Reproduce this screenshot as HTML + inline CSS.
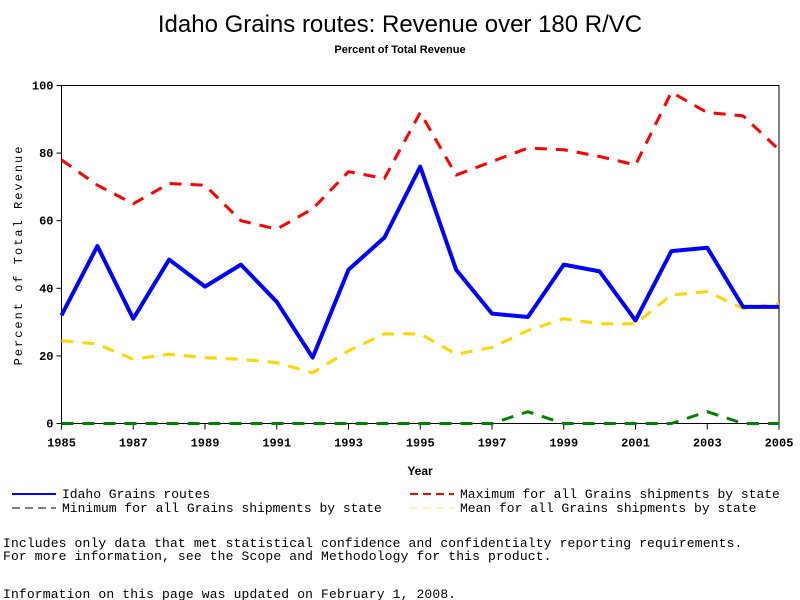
<!DOCTYPE html>
<html><head><meta charset="utf-8"><style>
body{margin:0;background:#fff;width:800px;height:600px;overflow:hidden}
svg{display:block}
text{font-family:"Liberation Mono",monospace}
</style></head><body>
<svg id="c" width="800" height="600">
<text x="400" y="32" text-anchor="middle" font-size="24" style="font-family:'Liberation Sans',sans-serif">Idaho Grains routes: Revenue over 180 R/VC</text>
<text x="400" y="53" text-anchor="middle" font-size="11" font-weight="bold" style="font-family:'Liberation Sans',sans-serif">Percent of Total Revenue</text>
<g id="axes"></g><g id="series"></g>
<text x="420" y="475" text-anchor="middle" font-size="12" font-weight="bold" style="font-family:'Liberation Sans',sans-serif">Year</text>
<text transform="translate(22,255) rotate(-90)" text-anchor="middle" font-size="12" letter-spacing="2">Percent of Total Revenue</text>
<g font-size="13">
<line x1="12" y1="494" x2="56" y2="494" stroke="#0000ff" stroke-width="2"/><text x="62" y="498">Idaho Grains routes</text>
<line x1="410" y1="494" x2="454" y2="494" stroke="#ff0000" stroke-width="2" stroke-dasharray="8,5"/><text x="460" y="498">Maximum for all Grains shipments by state</text>
<line x1="12" y1="508" x2="56" y2="508" stroke="#000" stroke-width="1" stroke-dasharray="8,5"/><text x="62" y="512">Minimum for all Grains shipments by state</text>
<line x1="410" y1="508" x2="454" y2="508" stroke="#ffe680" stroke-width="1" stroke-dasharray="8,5"/><text x="460" y="512">Mean for all Grains shipments by state</text>
</g>
<g font-size="13" letter-spacing="0.15">
<text x="3" y="547">Includes only data that met statistical confidence and confidentialty reporting requirements.</text>
<text x="3" y="560">For more information, see the Scope and Methodology for this product.</text>
<text x="3" y="598">Information on this page was updated on February 1, 2008.</text>
</g>
</svg>
<script>
const years=[1985,1986,1987,1988,1989,1990,1991,1992,1993,1994,1995,1996,1997,1998,1999,2000,2001,2002,2003,2004,2005];
const idaho=[32,52.5,31,48.5,40.5,47,36,19.5,45.5,55,76,45.5,32.5,31.5,47,45,30.5,51,52,34.5,34.5];
const maxv=[78,70.5,65,71,70.5,60,57.5,63.5,74.5,72.5,92,73.5,77.5,81.5,81,79,76.5,98,92,91,81];
const minv=[0,0,0,0,0,0,0,0,0,0,0,0,0,3.5,0,0,0,0,3.5,0,0];
const meanv=[24.5,23.5,19,20.5,19.5,19,18,15,21.5,26.5,26.5,20.5,22.5,27.5,31,29.5,29.5,38,39,34,35.5];
const yTicks=[0,20,40,60,80,100];
const xTicks=[1985,1987,1989,1991,1993,1995,1997,1999,2001,2003,2005];
const NS='http://www.w3.org/2000/svg';
const X0=61.5,X1=779,Y0=423.5,Y1=85.5;
const xs=v=>X0+(v-1985)/20*(X1-X0);
const ys=v=>Y0-(v/100)*(Y0-Y1);
function mk(t,a,p){const e=document.createElementNS(NS,t);for(const k in a)e.setAttribute(k,a[k]);p.appendChild(e);return e;}
const ax=document.getElementById('axes'),se=document.getElementById('series');
const fr=mk('rect',{x:X0,y:Y1,width:X1-X0,height:Y0-Y1,fill:'none',stroke:'#000'},ax);


yTicks.forEach(v=>{mk('line',{x1:X0-5,x2:X0,y1:ys(v),y2:ys(v),stroke:'#000'},ax);
const t=mk('text',{x:X0-8,y:ys(v)+4,'text-anchor':'end','font-size':12,'font-weight':'bold'},ax);t.textContent=v;

});
xTicks.forEach(v=>{mk('line',{x1:xs(v),x2:xs(v),y1:Y0,y2:Y0+6,stroke:'#000'},ax);
const t=mk('text',{x:xs(v),y:Y0+23,'text-anchor':'middle','font-size':12,'font-weight':'bold'},ax);t.textContent=v;

});
function line(d,col,w,dash,name){const p=mk('polyline',{points:d.map((v,i)=>xs(years[i])+','+ys(v)).join(' '),fill:'none',stroke:col,'stroke-width':w,'stroke-dasharray':dash,'stroke-linejoin':'round'},se);

}
line(minv,'#008000',3,'12,9','min-line');
line(meanv,'#ffd700',3,'12,9','mean-line');
line(maxv,'#ff0000',3,'12,9','max-line');
line(idaho,'#0000ff',4,'','idaho-line');
</script>
</body></html>
